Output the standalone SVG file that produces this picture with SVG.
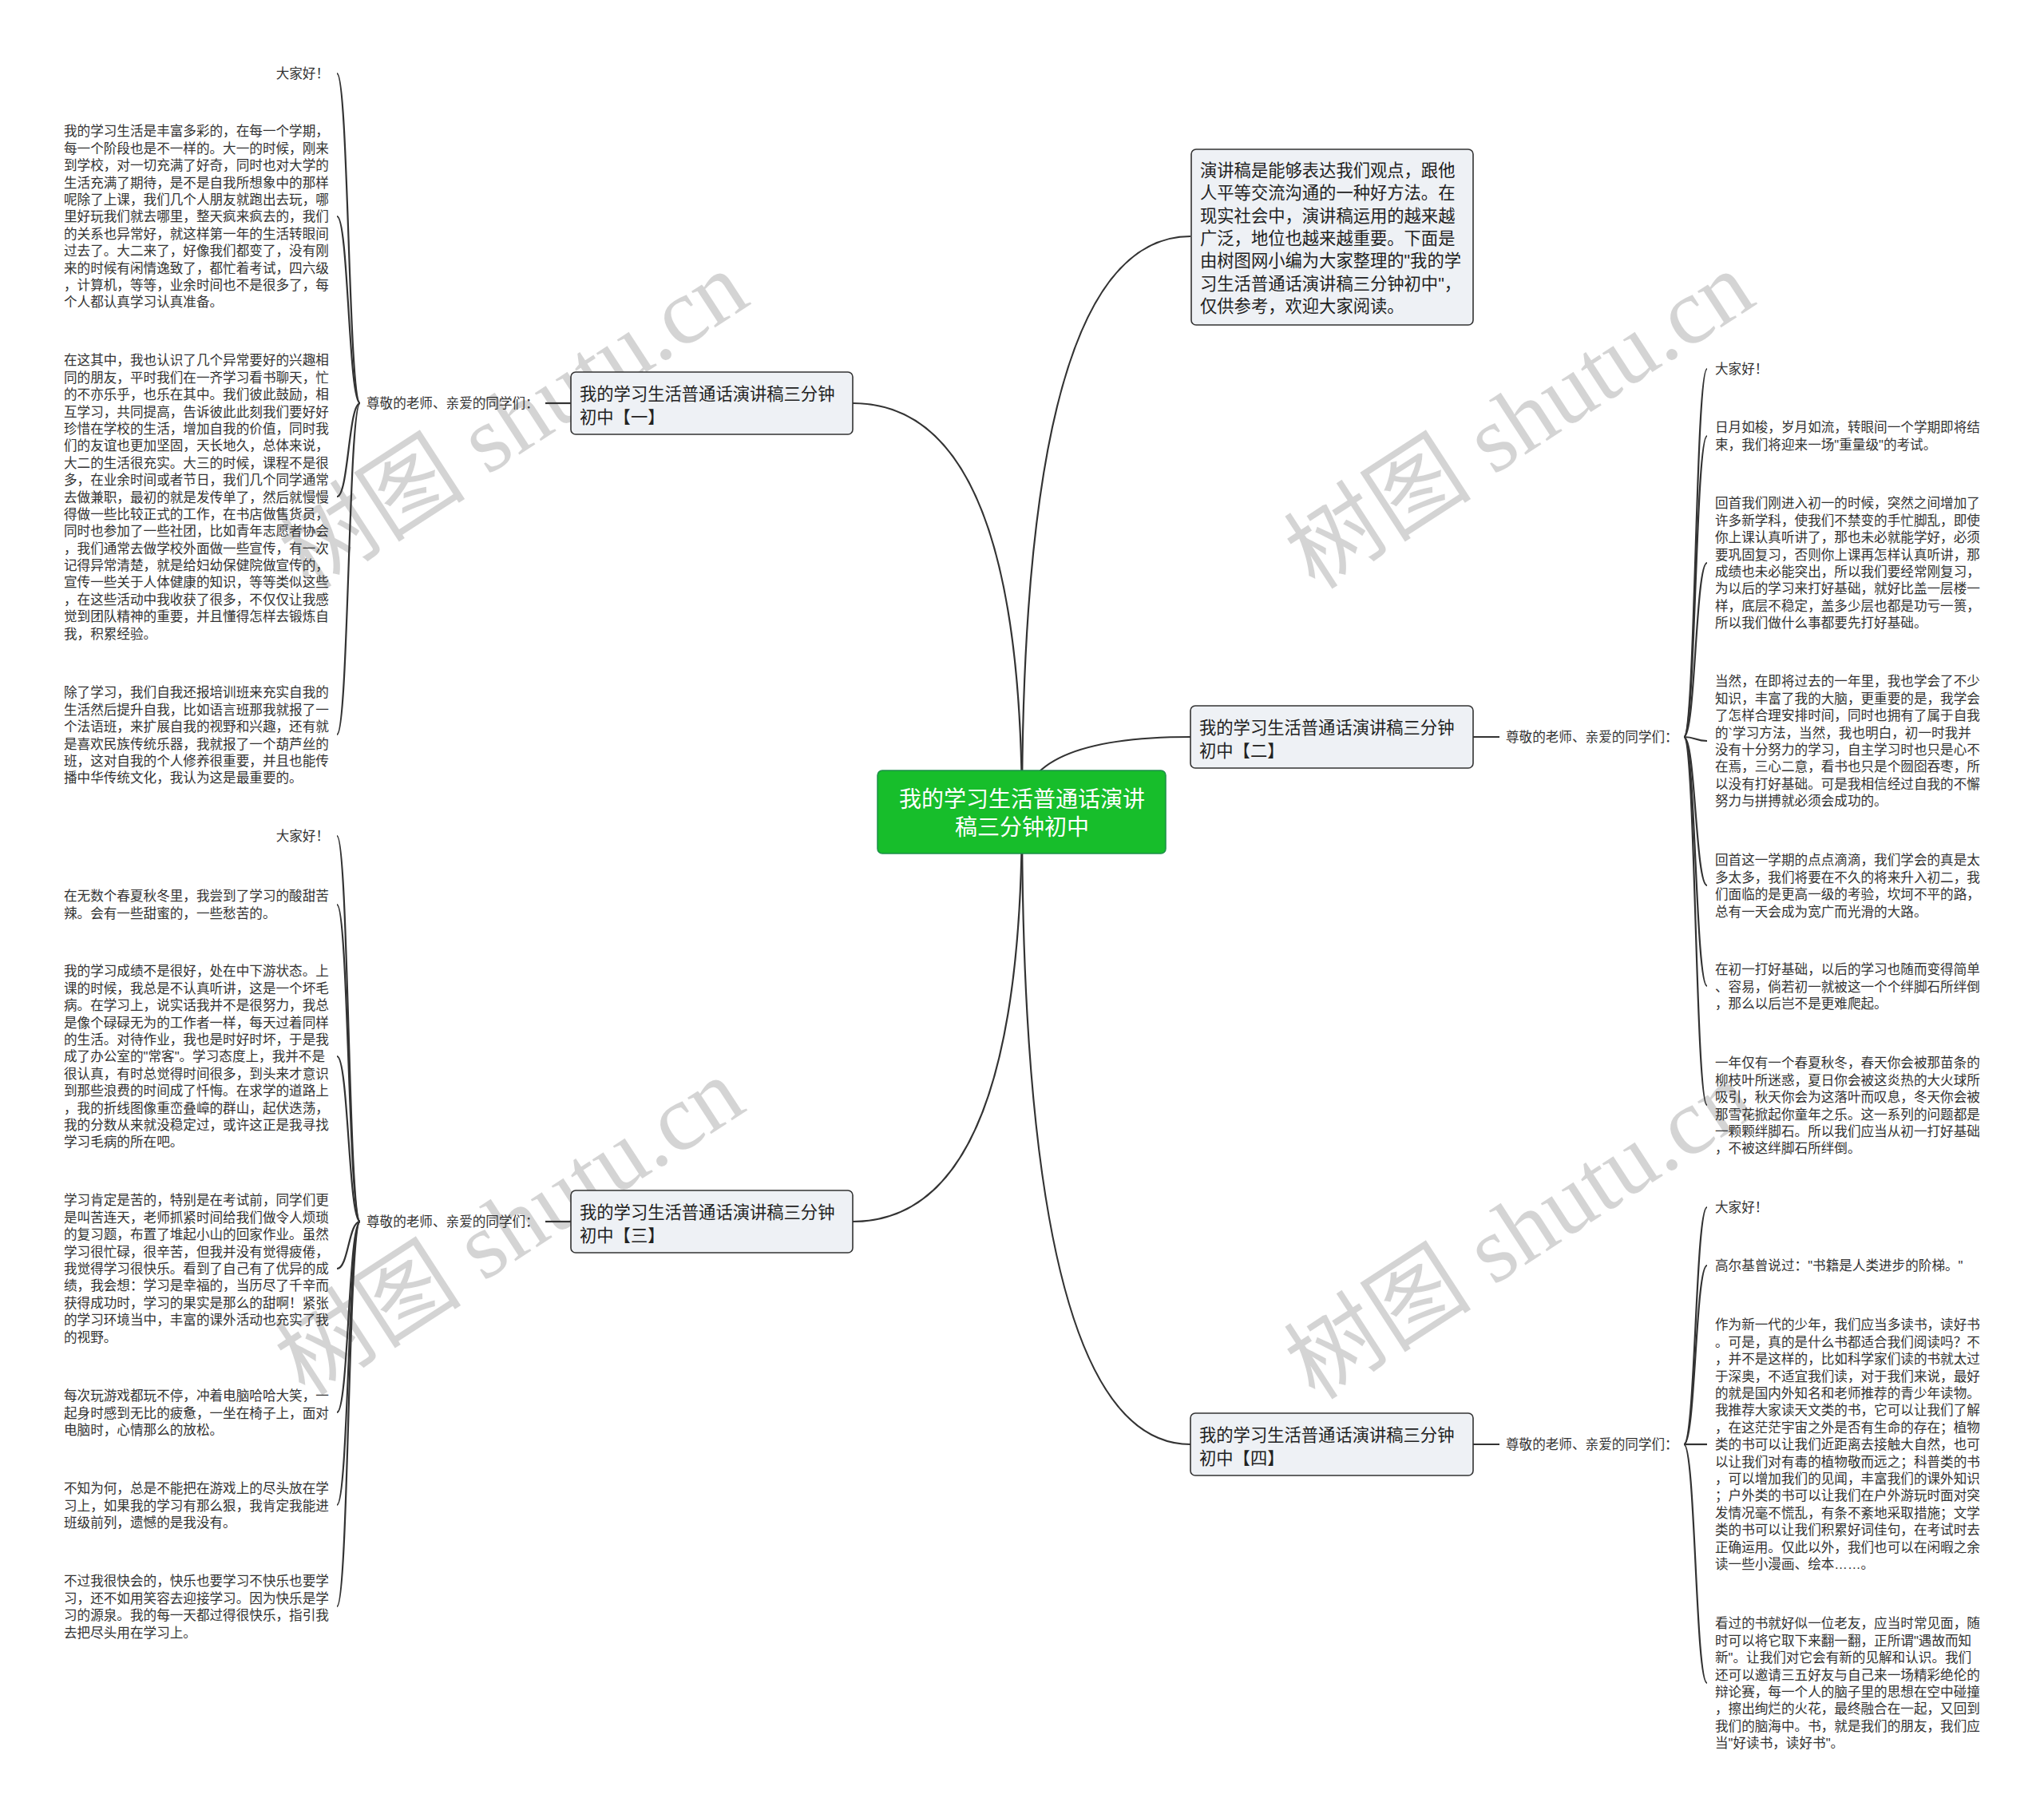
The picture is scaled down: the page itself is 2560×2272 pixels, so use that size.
<svg xmlns="http://www.w3.org/2000/svg" width="2560" height="2272" viewBox="0 0 2560 2272">
<style>
text{font-family:"Liberation Sans","Noto Sans CJK SC",sans-serif;}
.leaf{font-size:16.6px;fill:#333;}
.lbl{font-size:16.6px;fill:#333;}
.sub{font-size:21.3px;fill:#222;}
.conn{fill:none;stroke:#333;stroke-width:2.2;}
.box{fill:#EEF1F5;stroke:#333;stroke-width:1.6;}
.wm{font-family:"Liberation Serif","Noto Sans CJK SC",serif;font-size:118px;fill:#000;fill-opacity:0.17;}
</style>
<rect width="2560" height="2272" fill="#fff"/>
<g id="watermarks">
<text class="wm" text-anchor="middle" transform="translate(665,560) rotate(-33)">树图 shutu.cn</text>
<text class="wm" text-anchor="middle" transform="translate(1925,560) rotate(-33)">树图 shutu.cn</text>
<text class="wm" text-anchor="middle" transform="translate(660,1570) rotate(-33)">树图 shutu.cn</text>
<text class="wm" text-anchor="middle" transform="translate(1925,1575) rotate(-33)">树图 shutu.cn</text>
</g>
<g id="connectors">
<path class="conn" d="M1280,1017 Q1280,296 1491,296"/>
<path class="conn" d="M1280,1017 Q1280,923 1491,923"/>
<path class="conn" d="M1280,1017 Q1280,1809 1491,1809"/>
<path class="conn" d="M1280,1017 Q1280,505 1068,505"/>
<path class="conn" d="M1280,1017 Q1280,1530 1068,1530"/>
<path class="conn" d="M715,505 L683,505"/>
<path class="conn" d="M715,1530 L683,1530"/>
<path class="conn" d="M1845,923 L1878,923"/>
<path class="conn" d="M1845,1809 L1878,1809"/>
<path class="conn" d="M451,505 C436.5,505 436.5,92 422,92"/>
<path class="conn" d="M451,505 C436.5,505 436.5,271 422,271"/>
<path class="conn" d="M451,505 C436.5,505 436.5,622 422,622"/>
<path class="conn" d="M451,505 C436.5,505 436.5,920 422,920"/>
<path class="conn" d="M451,1530 C436.5,1530 436.5,1047 422,1047"/>
<path class="conn" d="M451,1530 C436.5,1530 436.5,1133 422,1133"/>
<path class="conn" d="M451,1530 C436.5,1530 436.5,1323 422,1323"/>
<path class="conn" d="M451,1530 C436.5,1530 436.5,1589 422,1589"/>
<path class="conn" d="M451,1530 C436.5,1530 436.5,1769 422,1769"/>
<path class="conn" d="M451,1530 C436.5,1530 436.5,1885 422,1885"/>
<path class="conn" d="M451,1530 C436.5,1530 436.5,2012 422,2012"/>
<path class="conn" d="M2109,923 C2123.5,923 2123.5,462 2138,462"/>
<path class="conn" d="M2109,923 C2123.5,923 2123.5,546 2138,546"/>
<path class="conn" d="M2109,923 C2123.5,923 2123.5,705 2138,705"/>
<path class="conn" d="M2109,923 C2123.5,923 2123.5,928 2138,928"/>
<path class="conn" d="M2109,923 C2123.5,923 2123.5,1109 2138,1109"/>
<path class="conn" d="M2109,923 C2123.5,923 2123.5,1235 2138,1235"/>
<path class="conn" d="M2109,923 C2123.5,923 2123.5,1384 2138,1384"/>
<path class="conn" d="M2109,1809 C2123.5,1809 2123.5,1512 2138,1512"/>
<path class="conn" d="M2109,1809 C2123.5,1809 2123.5,1585 2138,1585"/>
<path class="conn" d="M2109,1809 C2123.5,1809 2123.5,1809 2138,1809"/>
<path class="conn" d="M2109,1809 C2123.5,1809 2123.5,2108 2138,2108"/>
</g>
<g id="center">
<rect x="1099" y="965" width="361" height="104" rx="6" fill="#17BE2B" stroke="#1d8f4a" stroke-width="1.5"/>
<text x="1280" y="1010.6" text-anchor="middle" font-size="28" fill="#fff">我的学习生活普通话演讲</text>
<text x="1280" y="1045.6" text-anchor="middle" font-size="28" fill="#fff">稿三分钟初中</text>
</g>
<g id="intro">
<rect class="box" x="1492" y="187" width="353" height="220" rx="6"/>
<text class="sub" x="1503" y="221.1"><tspan x="1503">演讲稿是能够表达我们观点，跟他</tspan><tspan x="1503" dy="28.3">人平等交流沟通的一种好方法。在</tspan><tspan x="1503" dy="28.3">现实社会中，演讲稿运用的越来越</tspan><tspan x="1503" dy="28.3">广泛，地位也越来越重要。下面是</tspan><tspan x="1503" dy="28.3">由树图网小编为大家整理的"我的学</tspan><tspan x="1503" dy="28.3">习生活普通话演讲稿三分钟初中"，</tspan><tspan x="1503" dy="28.3">仅供参考，欢迎大家阅读。</tspan></text>
</g>
<g id="branch1">
<rect class="box" x="715" y="466" width="353" height="78" rx="6"/>
<text class="sub" x="726" y="501.1"><tspan x="726">我的学习生活普通话演讲稿三分钟</tspan><tspan x="726" dy="28.5">初中【一】</tspan></text>
</g>
<g id="branch2">
<rect class="box" x="1491" y="884" width="354" height="78" rx="6"/>
<text class="sub" x="1502" y="919.1"><tspan x="1502">我的学习生活普通话演讲稿三分钟</tspan><tspan x="1502" dy="28.5">初中【二】</tspan></text>
</g>
<g id="branch3">
<rect class="box" x="715" y="1491" width="353" height="78" rx="6"/>
<text class="sub" x="726" y="1526.1"><tspan x="726">我的学习生活普通话演讲稿三分钟</tspan><tspan x="726" dy="28.5">初中【三】</tspan></text>
</g>
<g id="branch4">
<rect class="box" x="1491" y="1770" width="354" height="78" rx="6"/>
<text class="sub" x="1502" y="1805.1"><tspan x="1502">我的学习生活普通话演讲稿三分钟</tspan><tspan x="1502" dy="28.5">初中【四】</tspan></text>
</g>
<g id="label1"><text class="lbl" x="459" y="511.3">尊敬的老师、亲爱的同学们：</text></g>
<g id="label2"><text class="lbl" x="1886" y="929.3">尊敬的老师、亲爱的同学们：</text></g>
<g id="label3"><text class="lbl" x="459" y="1536.3">尊敬的老师、亲爱的同学们：</text></g>
<g id="label4"><text class="lbl" x="1886" y="1815.3">尊敬的老师、亲爱的同学们：</text></g>
<g id="leaf1a"><text class="leaf" x="412" y="98.3" text-anchor="end">大家好！</text></g>
<g id="leaf1b"><text class="leaf" x="80" y="170.3"><tspan x="80">我的学习生活是丰富多彩的，在每一个学期，</tspan><tspan x="80" dy="21.4">每一个阶段也是不一样的。大一的时候，刚来</tspan><tspan x="80" dy="21.4">到学校，对一切充满了好奇，同时也对大学的</tspan><tspan x="80" dy="21.4">生活充满了期待，是不是自我所想象中的那样</tspan><tspan x="80" dy="21.4">呢除了上课，我们几个人朋友就跑出去玩，哪</tspan><tspan x="80" dy="21.4">里好玩我们就去哪里，整天疯来疯去的，我们</tspan><tspan x="80" dy="21.4">的关系也异常好，就这样第一年的生活转眼间</tspan><tspan x="80" dy="21.4">过去了。大二来了，好像我们都变了，没有刚</tspan><tspan x="80" dy="21.4">来的时候有闲情逸致了，都忙着考试，四六级</tspan><tspan x="80" dy="21.4">，计算机，等等，业余时间也不是很多了，每</tspan><tspan x="80" dy="21.4">个人都认真学习认真准备。</tspan></text></g>
<g id="leaf1c"><text class="leaf" x="80" y="457.3"><tspan x="80">在这其中，我也认识了几个异常要好的兴趣相</tspan><tspan x="80" dy="21.4">同的朋友，平时我们在一齐学习看书聊天，忙</tspan><tspan x="80" dy="21.4">的不亦乐乎，也乐在其中。我们彼此鼓励，相</tspan><tspan x="80" dy="21.4">互学习，共同提高，告诉彼此此刻我们要好好</tspan><tspan x="80" dy="21.4">珍惜在学校的生活，增加自我的价值，同时我</tspan><tspan x="80" dy="21.4">们的友谊也更加坚固，天长地久，总体来说，</tspan><tspan x="80" dy="21.4">大二的生活很充实。大三的时候，课程不是很</tspan><tspan x="80" dy="21.4">多，在业余时间或者节日，我们几个同学通常</tspan><tspan x="80" dy="21.4">去做兼职，最初的就是发传单了，然后就慢慢</tspan><tspan x="80" dy="21.4">得做一些比较正式的工作，在书店做售货员，</tspan><tspan x="80" dy="21.4">同时也参加了一些社团，比如青年志愿者协会</tspan><tspan x="80" dy="21.4">，我们通常去做学校外面做一些宣传，有一次</tspan><tspan x="80" dy="21.4">记得异常清楚，就是给妇幼保健院做宣传的，</tspan><tspan x="80" dy="21.4">宣传一些关于人体健康的知识，等等类似这些</tspan><tspan x="80" dy="21.4">，在这些活动中我收获了很多，不仅仅让我感</tspan><tspan x="80" dy="21.4">觉到团队精神的重要，并且懂得怎样去锻炼自</tspan><tspan x="80" dy="21.4">我，积累经验。</tspan></text></g>
<g id="leaf1d"><text class="leaf" x="80" y="873.3"><tspan x="80">除了学习，我们自我还报培训班来充实自我的</tspan><tspan x="80" dy="21.4">生活然后提升自我，比如语言班那我就报了一</tspan><tspan x="80" dy="21.4">个法语班，来扩展自我的视野和兴趣，还有就</tspan><tspan x="80" dy="21.4">是喜欢民族传统乐器，我就报了一个葫芦丝的</tspan><tspan x="80" dy="21.4">班，这对自我的个人修养很重要，并且也能传</tspan><tspan x="80" dy="21.4">播中华传统文化，我认为这是最重要的。</tspan></text></g>
<g id="leaf3a"><text class="leaf" x="412" y="1053.3" text-anchor="end">大家好！</text></g>
<g id="leaf3b"><text class="leaf" x="80" y="1128.3"><tspan x="80">在无数个春夏秋冬里，我尝到了学习的酸甜苦</tspan><tspan x="80" dy="21.4">辣。会有一些甜蜜的，一些愁苦的。</tspan></text></g>
<g id="leaf3c"><text class="leaf" x="80" y="1222.3"><tspan x="80">我的学习成绩不是很好，处在中下游状态。上</tspan><tspan x="80" dy="21.4">课的时候，我总是不认真听讲，这是一个坏毛</tspan><tspan x="80" dy="21.4">病。在学习上，说实话我并不是很努力，我总</tspan><tspan x="80" dy="21.4">是像个碌碌无为的工作者一样，每天过着同样</tspan><tspan x="80" dy="21.4">的生活。对待作业，我也是时好时坏，于是我</tspan><tspan x="80" dy="21.4">成了办公室的"常客"。学习态度上，我并不是</tspan><tspan x="80" dy="21.4">很认真，有时总觉得时间很多，到头来才意识</tspan><tspan x="80" dy="21.4">到那些浪费的时间成了忏悔。在求学的道路上</tspan><tspan x="80" dy="21.4">，我的折线图像重峦叠嶂的群山，起伏迭荡，</tspan><tspan x="80" dy="21.4">我的分数从来就没稳定过，或许这正是我寻找</tspan><tspan x="80" dy="21.4">学习毛病的所在吧。</tspan></text></g>
<g id="leaf3d"><text class="leaf" x="80" y="1509.3"><tspan x="80">学习肯定是苦的，特别是在考试前，同学们更</tspan><tspan x="80" dy="21.4">是叫苦连天，老师抓紧时间给我们做令人烦琐</tspan><tspan x="80" dy="21.4">的复习题，布置了堆起小山的回家作业。虽然</tspan><tspan x="80" dy="21.4">学习很忙碌，很辛苦，但我并没有觉得疲倦，</tspan><tspan x="80" dy="21.4">我觉得学习很快乐。看到了自己有了优异的成</tspan><tspan x="80" dy="21.4">绩，我会想：学习是幸福的，当历尽了千辛而</tspan><tspan x="80" dy="21.4">获得成功时，学习的果实是那么的甜啊！紧张</tspan><tspan x="80" dy="21.4">的学习环境当中，丰富的课外活动也充实了我</tspan><tspan x="80" dy="21.4">的视野。</tspan></text></g>
<g id="leaf3e"><text class="leaf" x="80" y="1754.3"><tspan x="80">每次玩游戏都玩不停，冲着电脑哈哈大笑，一</tspan><tspan x="80" dy="21.4">起身时感到无比的疲惫，一坐在椅子上，面对</tspan><tspan x="80" dy="21.4">电脑时，心情那么的放松。</tspan></text></g>
<g id="leaf3f"><text class="leaf" x="80" y="1870.3"><tspan x="80">不知为何，总是不能把在游戏上的尽头放在学</tspan><tspan x="80" dy="21.4">习上，如果我的学习有那么狠，我肯定我能进</tspan><tspan x="80" dy="21.4">班级前列，遗憾的是我没有。</tspan></text></g>
<g id="leaf3g"><text class="leaf" x="80" y="1986.3"><tspan x="80">不过我很快会的，快乐也要学习不快乐也要学</tspan><tspan x="80" dy="21.4">习，还不如用笑容去迎接学习。因为快乐是学</tspan><tspan x="80" dy="21.4">习的源泉。我的每一天都过得很快乐，指引我</tspan><tspan x="80" dy="21.4">去把尽头用在学习上。</tspan></text></g>
<g id="leaf2a"><text class="leaf" x="2148" y="468.3">大家好！</text></g>
<g id="leaf2b"><text class="leaf" x="2148" y="541.3"><tspan x="2148">日月如梭，岁月如流，转眼间一个学期即将结</tspan><tspan x="2148" dy="21.4">束，我们将迎来一场"重量级"的考试。</tspan></text></g>
<g id="leaf2c"><text class="leaf" x="2148" y="636.3"><tspan x="2148">回首我们刚进入初一的时候，突然之间增加了</tspan><tspan x="2148" dy="21.4">许多新学科，使我们不禁变的手忙脚乱，即使</tspan><tspan x="2148" dy="21.4">你上课认真听讲了，那也未必就能学好，必须</tspan><tspan x="2148" dy="21.4">要巩固复习，否则你上课再怎样认真听讲，那</tspan><tspan x="2148" dy="21.4">成绩也未必能突出，所以我们要经常刚复习，</tspan><tspan x="2148" dy="21.4">为以后的学习来打好基础，就好比盖一层楼一</tspan><tspan x="2148" dy="21.4">样，底层不稳定，盖多少层也都是功亏一篑，</tspan><tspan x="2148" dy="21.4">所以我们做什么事都要先打好基础。</tspan></text></g>
<g id="leaf2d"><text class="leaf" x="2148" y="859.3"><tspan x="2148">当然，在即将过去的一年里，我也学会了不少</tspan><tspan x="2148" dy="21.4">知识，丰富了我的大脑，更重要的是，我学会</tspan><tspan x="2148" dy="21.4">了怎样合理安排时间，同时也拥有了属于自我</tspan><tspan x="2148" dy="21.4">的`学习方法，当然，我也明白，初一时我并</tspan><tspan x="2148" dy="21.4">没有十分努力的学习，自主学习时也只是心不</tspan><tspan x="2148" dy="21.4">在焉，三心二意，看书也只是个囫囵吞枣，所</tspan><tspan x="2148" dy="21.4">以没有打好基础。可是我相信经过自我的不懈</tspan><tspan x="2148" dy="21.4">努力与拼搏就必须会成功的。</tspan></text></g>
<g id="leaf2e"><text class="leaf" x="2148" y="1083.3"><tspan x="2148">回首这一学期的点点滴滴，我们学会的真是太</tspan><tspan x="2148" dy="21.4">多太多，我们将要在不久的将来升入初二，我</tspan><tspan x="2148" dy="21.4">们面临的是更高一级的考验，坎坷不平的路，</tspan><tspan x="2148" dy="21.4">总有一天会成为宽广而光滑的大路。</tspan></text></g>
<g id="leaf2f"><text class="leaf" x="2148" y="1220.3"><tspan x="2148">在初一打好基础，以后的学习也随而变得简单</tspan><tspan x="2148" dy="21.4">、容易，倘若初一就被这一个个绊脚石所绊倒</tspan><tspan x="2148" dy="21.4">，那么以后岂不是更难爬起。</tspan></text></g>
<g id="leaf2g"><text class="leaf" x="2148" y="1337.3"><tspan x="2148">一年仅有一个春夏秋冬，春天你会被那苗条的</tspan><tspan x="2148" dy="21.4">柳枝叶所迷惑，夏日你会被这炎热的大火球所</tspan><tspan x="2148" dy="21.4">吸引，秋天你会为这落叶而叹息，冬天你会被</tspan><tspan x="2148" dy="21.4">那雪花掀起你童年之乐。这一系列的问题都是</tspan><tspan x="2148" dy="21.4">一颗颗绊脚石。所以我们应当从初一打好基础</tspan><tspan x="2148" dy="21.4">，不被这绊脚石所绊倒。</tspan></text></g>
<g id="leaf4a"><text class="leaf" x="2148" y="1518.3">大家好！</text></g>
<g id="leaf4b"><text class="leaf" x="2148" y="1591.3">高尔基曾说过："书籍是人类进步的阶梯。"</text></g>
<g id="leaf4c"><text class="leaf" x="2148" y="1665.3"><tspan x="2148">作为新一代的少年，我们应当多读书，读好书</tspan><tspan x="2148" dy="21.4">。可是，真的是什么书都适合我们阅读吗？不</tspan><tspan x="2148" dy="21.4">，并不是这样的，比如科学家们读的书就太过</tspan><tspan x="2148" dy="21.4">于深奥，不适宜我们读，对于我们来说，最好</tspan><tspan x="2148" dy="21.4">的就是国内外知名和老师推荐的青少年读物。</tspan><tspan x="2148" dy="21.4">我推荐大家读天文类的书，它可以让我们了解</tspan><tspan x="2148" dy="21.4">，在这茫茫宇宙之外是否有生命的存在；植物</tspan><tspan x="2148" dy="21.4">类的书可以让我们近距离去接触大自然，也可</tspan><tspan x="2148" dy="21.4">以让我们对有毒的植物敬而远之；科普类的书</tspan><tspan x="2148" dy="21.4">，可以增加我们的见闻，丰富我们的课外知识</tspan><tspan x="2148" dy="21.4">；户外类的书可以让我们在户外游玩时面对突</tspan><tspan x="2148" dy="21.4">发情况毫不慌乱，有条不紊地采取措施；文学</tspan><tspan x="2148" dy="21.4">类的书可以让我们积累好词佳句，在考试时去</tspan><tspan x="2148" dy="21.4">正确运用。仅此以外，我们也可以在闲暇之余</tspan><tspan x="2148" dy="21.4">读一些小漫画、绘本……。</tspan></text></g>
<g id="leaf4d"><text class="leaf" x="2148" y="2039.3"><tspan x="2148">看过的书就好似一位老友，应当时常见面，随</tspan><tspan x="2148" dy="21.4">时可以将它取下来翻一翻，正所谓"遇故而知</tspan><tspan x="2148" dy="21.4">新"。让我们对它会有新的见解和认识。我们</tspan><tspan x="2148" dy="21.4">还可以邀请三五好友与自己来一场精彩绝伦的</tspan><tspan x="2148" dy="21.4">辩论赛，每一个人的脑子里的思想在空中碰撞</tspan><tspan x="2148" dy="21.4">，擦出绚烂的火花，最终融合在一起，又回到</tspan><tspan x="2148" dy="21.4">我们的脑海中。书，就是我们的朋友，我们应</tspan><tspan x="2148" dy="21.4">当"好读书，读好书"。</tspan></text></g>
</svg>
